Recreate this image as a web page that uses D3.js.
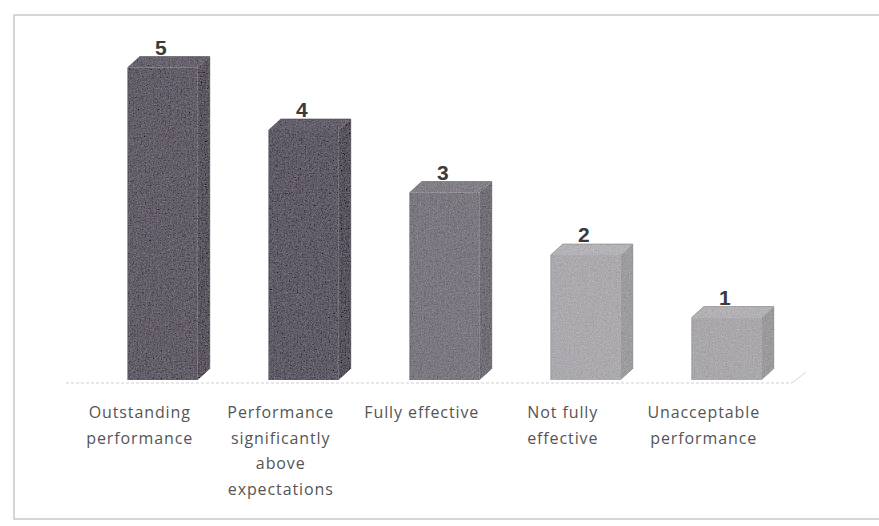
<!DOCTYPE html>
<html><head><meta charset="utf-8">
<script src="https://cdn.jsdelivr.net/npm/d3@7"></script>
<style>body{margin:0;background:#fff}svg{display:block}</style>
</head><body>
<svg id="chart" width="879" height="526"></svg>
<script>
const categories = ["Outstanding performance", "Performance significantly above expectations", "Fully effective", "Not fully effective", "Unacceptable performance"];
const labelLines = [["Outstanding","performance"],["Performance","significantly","above","expectations"],["Fully effective"],["Not fully","effective"],["Unacceptable","performance"]];
const values = [5, 4, 3, 2, 1];
const colors = ["#625d67", "#5f5a65", "#7b777f", "#aba9ad", "#a9a7ab"];

const svg = d3.select("#chart");
const dx = 12, dy = 11;

const defs = svg.append("defs");
const f = defs.append("filter").attr("id","grain").attr("x",0).attr("y",0).attr("width",1).attr("height",1);
f.append("feTurbulence").attr("type","fractalNoise").attr("baseFrequency",0.75).attr("numOctaves",2).attr("seed",3).attr("result","n");
f.append("feColorMatrix").attr("in","n").attr("type","matrix")
 .attr("values","0.33 0.33 0.33 0 0  0.33 0.33 0.33 0 0  0.33 0.33 0.33 0 0  0 0 0 0 1").attr("result","g");
f.append("feComposite").attr("in","SourceGraphic").attr("in2","g").attr("operator","arithmetic")
 .attr("k1",0).attr("k2",1).attr("k3",0.45).attr("k4",-0.22).attr("result","c");
f.append("feComposite").attr("in","c").attr("in2","SourceGraphic").attr("operator","in");

// frame
svg.append("rect").attr("x",14).attr("y",15).attr("width",870).attr("height",504)
  .attr("fill","none").attr("stroke","#c9c9c9").attr("stroke-width",1.5);

const x = d3.scaleBand().domain(categories).range([92.5, 797]).paddingInner(0.5035).paddingOuter(0.25);
const y = d3.scaleLinear().domain([0, 5]).range([369, 56.5]);
const bw = x.bandwidth();

// baseline
svg.append("line").attr("x1",66).attr("x2",792).attr("y1",383).attr("y2",383)
  .attr("stroke","#cfcfcf").attr("stroke-width",1.2).attr("stroke-dasharray","3,2");
svg.append("line").attr("x1",792).attr("x2",806).attr("y1",383).attr("y2",372)
  .attr("stroke","#d6d6d6").attr("stroke-width",1);

const g = svg.append("g").selectAll("g").data(categories).join("g");
g.each(function(c, i){
  const gg = d3.select(this);
  const x0 = x(c), x1 = x0 + bw;
  const yt = y(values[i]), yb = y(0);
  const col = d3.color(colors[i]);
  const bar = gg.append("g").attr("filter","url(#grain)");
  bar.append("path").attr("d", `M${x1},${yt+dy}L${x1+dx},${yt}L${x1+dx},${yb}L${x1},${yb+dy}Z`)
     .attr("fill", col.darker(0.25));
  bar.append("path").attr("d", `M${x0},${yt+dy}L${x0+dx},${yt}L${x1+dx},${yt}L${x1},${yt+dy}Z`)
     .attr("fill", col.brighter(0.15));
  bar.append("rect").attr("x",x0).attr("y",yt+dy).attr("width",bw).attr("height",yb-yt)
     .attr("fill", col);
  gg.append("path").attr("d", `M${x0},${yb+dy}L${x0},${yt+dy}L${x0+dx},${yt}L${x1+dx},${yt}L${x1+dx},${yb}`)
     .attr("fill","none").attr("stroke", col.darker(0.8)).attr("stroke-width",1).attr("opacity",0.6);
  gg.append("text").attr("x", x0 + bw/2 - 2).attr("y", yt - 2)
    .attr("text-anchor","middle").attr("font-family","Liberation Sans, Arial, sans-serif")
    .attr("font-weight","bold").attr("font-size",21).attr("fill","#3a3a3a").text(values[i]);
  const lx = x0 + bw/2 - 23;
  const t = gg.append("text").attr("x", lx).attr("y", 418)
    .attr("text-anchor","middle").attr("font-family","Open Sans, sans-serif")
    .attr("font-size",16).attr("letter-spacing",0.9).attr("fill","#555");
  labelLines[i].forEach((ln, k) => t.append("tspan").attr("x", lx).attr("dy", k ? 25.5 : 0).text(ln));
});
</script>
</body></html>
